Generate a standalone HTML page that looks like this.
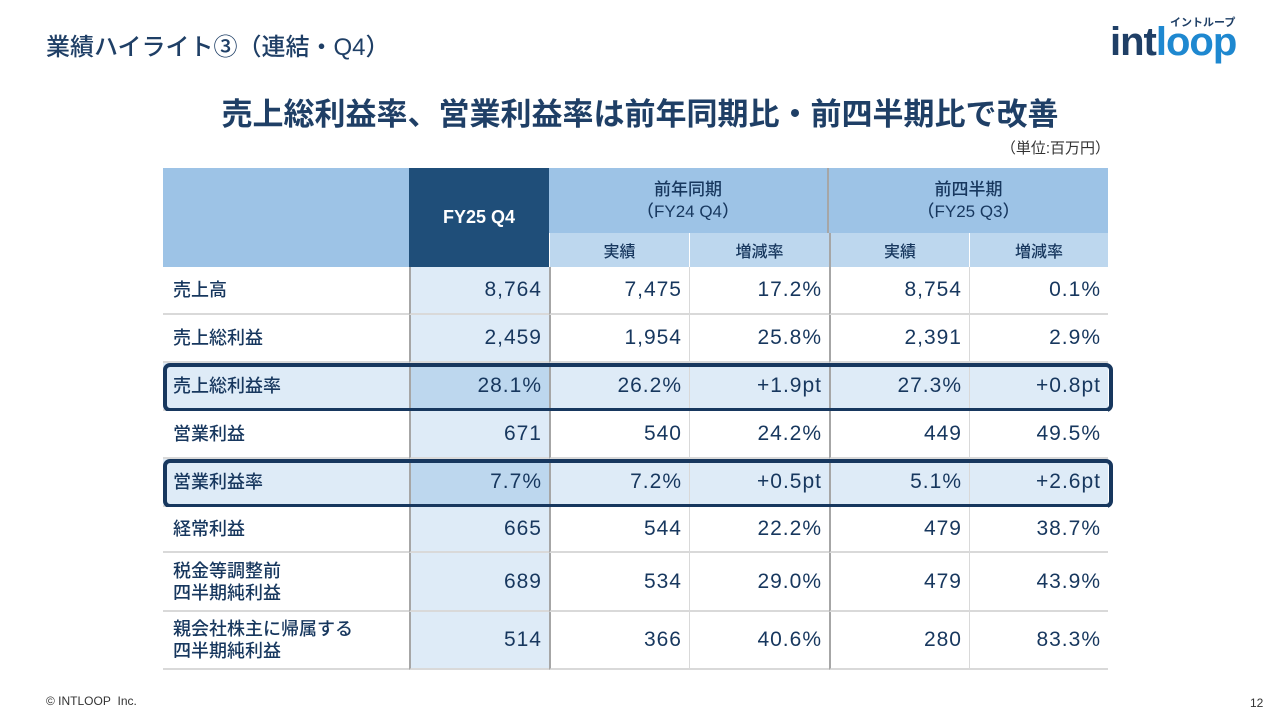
<!DOCTYPE html>
<html><head><meta charset="utf-8">
<style>
body{margin:0;width:1280px;height:720px;background:#fff;position:relative;overflow:hidden;font-family:"Liberation Sans","Noto Sans CJK JP",sans-serif;color:#17375e}
.a{position:absolute;box-sizing:border-box}
.c{display:flex;align-items:center;justify-content:center;text-align:center}
.r{display:flex;align-items:center;justify-content:flex-end;padding-right:7px;letter-spacing:1px}
.l{display:flex;align-items:center;padding-left:10px}
</style></head><body>
<div class="a" style="left:46px;top:27px;font-size:24px;color:#1f3f66;font-weight:500">業績ハイライト③（連結・Q4）</div>
<div class="a" style="left:1108px;top:14px;width:150px;height:56px">
 <div class="a" style="left:62px;top:0;font-size:11px;font-weight:bold;color:#1f3f66">イントループ</div>
 <div class="a" style="left:2px;top:6px;font-size:40px;font-weight:bold;letter-spacing:-1px"><span style="color:#1f3f66">int</span><span style="color:#1e88d0">loop</span></div>
</div>
<div class="a c" style="left:140px;top:89px;width:1000px;font-size:31px;font-weight:bold;color:#1f3f66">売上総利益率、営業利益率は前年同期比・前四半期比で改善</div>
<div class="a" style="right:170px;top:137px;font-size:15px;color:#333">（単位:百万円）</div>
<div id="tbl"></div>
<div class="a" style="left:46px;top:694px;font-size:12px;color:#333">© INTLOOP&nbsp; Inc.</div>
<div class="a" style="left:1250px;top:696px;font-size:12px;color:#333">12</div>
<script>
const labels=[["売上高"],["売上総利益"],["売上総利益率"],["営業利益"],["営業利益率"],["経常利益"],["税金等調整前","四半期純利益"],["親会社株主に帰属する","四半期純利益"]];
const fy25q4=["8,764","2,459","28.1%","671","7.7%","665","689","514"];
const fy24q4=["7,475","1,954","26.2%","540","7.2%","544","534","366"];
const yoy=["17.2%","25.8%","+1.9pt","24.2%","+0.5pt","22.2%","29.0%","40.6%"];
const fy25q3=["8,754","2,391","27.3%","449","5.1%","479","479","280"];
const qoq=["0.1%","2.9%","+0.8pt","49.5%","+2.6pt","38.7%","43.9%","83.3%"];
const hl=[false,false,true,false,true,false,false,false];
const xs=[163,409,549,689,829,969,1108];
const ys=[267,315,363,411,459,507,553,612,670];
const T=document.getElementById('tbl');
function box(x,y,w,h,cls,html,st){const d=document.createElement('div');d.className='a '+cls;d.style.cssText=`left:${x}px;top:${y}px;width:${w}px;height:${h}px;`+(st||'');d.innerHTML=html;T.appendChild(d);return d;}
let e;
e=box(163,168,246,99,'','','background:#9dc3e6');

e=box(409,168,140,99,'c','FY25 Q4','background:#1f4e79;color:#fff;font-size:18px;font-weight:bold');

e=box(549,168,280,65,'c','前年同期<br>（FY24 Q4）','background:#9dc3e6;font-size:17px;line-height:22px;font-weight:500;border-right:2px solid #a6a6a6');

e=box(829,168,279,65,'c','前四半期<br>（FY25 Q3）','background:#9dc3e6;font-size:17px;line-height:22px;font-weight:500');

const subs=['実績','増減率','実績','増減率'];
for(let i=0;i<4;i++){e=box(xs[i+2],233,xs[i+3]-xs[i+2],34,'c',subs[i],'background:#bdd7ee;font-size:16px;font-weight:500;border-left:1px solid #fff;'+(i==2?'border-left:2px solid #a6a6a6':''));
}
const cols=[fy25q4,fy24q4,yoy,fy25q3,qoq];
for(let r=0;r<8;r++){
 const y=ys[r],h=ys[r+1]-ys[r];
 const bg=hl[r]?'#deebf7':'#fff';
 e=box(163,y,246,h,'l',labels[r].join('<br>'),`background:${bg};font-size:18px;font-weight:500;line-height:22px;border-bottom:2px solid #d9d9d9`);
 
 for(let c=0;c<5;c++){
  let b=bg;if(c==0)b=hl[r]?'#bdd7ee':'#deebf7';
  const bl=c==0||c==1||c==3?'2px solid #a6a6a6':'1px solid #d9d9d9';
  e=box(xs[c+1],y,xs[c+2]-xs[c+1],h,'r',cols[c][r],`background:${b};font-size:21px;font-weight:500;border-bottom:2px solid #d9d9d9;border-left:${bl}`);
  
 }
 if(hl[r]){e=box(163,y,950,h+1,'','','border:4px solid #17375e;border-radius:7px');
  }
}
</script>
</body></html>
